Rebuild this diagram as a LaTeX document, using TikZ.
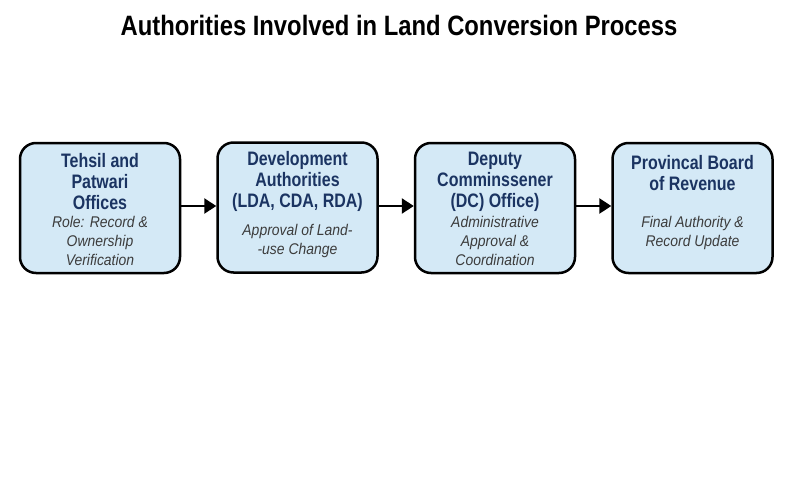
\documentclass[tikz,border=0pt]{standalone}
\usepackage{fontspec}
\setmainfont{Liberation Sans}
\newfontfamily\titlefont[FakeStretch=0.85]{Liberation Sans}
\newfontfamily\headfont[FakeStretch=0.82]{Liberation Sans}
\newfontfamily\subfont[FakeStretch=0.9]{Liberation Sans}
\usetikzlibrary{arrows.meta}
\definecolor{boxfill}{HTML}{D4E9F6}
\definecolor{headcol}{HTML}{1B3462}
\definecolor{subcol}{HTML}{3C3C3C}
\begin{document}
\begin{tikzpicture}[x=1pt,y=-1pt,
  stagebox/.style={draw=black,line width=2.5pt,fill=boxfill,rounded corners=16pt,minimum width=160pt,minimum height=130pt,inner sep=0pt},
  headtxt/.style={font=\headfont\bfseries\fontsize{19.5}{21}\selectfont,text=headcol,align=center,inner sep=0pt},
  subtxt/.style={font=\subfont\itshape\fontsize{15.5}{19}\selectfont,text=subcol,align=center,inner sep=0pt},
  flow/.style={line width=2.8pt,-{Triangle[length=12pt,width=15pt]}}]
\useasboundingbox (0,0) rectangle (800,500);
\fill[white] (0,0) rectangle (800,500);
\node[font=\titlefont\bfseries\fontsize{28}{30}\selectfont,inner sep=0pt] (title) at (399,25) {Authorities Involved in Land Conversion Process};

\node[stagebox] (b1) at (100,208) {};
\node[stagebox] (b2) at (297.5,207.5) {};
\node[stagebox] (b3) at (495,208) {};
\node[stagebox] (b4) at (692.5,208) {};

\node[headtxt] (h1) at (100,181.5) {Tehsil and\\Patwari\\Offices};
\node[subtxt] (s1) at (100,241) {Role: Record \&\\Ownership\\Verification};
\node[headtxt] (h2) at (297.5,181.5) {Development\\Authorities\\(LDA, CDA, RDA)};
\node[subtxt] (s2) at (297.5,241) {Approval of Land-\\-use Change};
\node[headtxt] (h3) at (495,181.5) {Deputy\\Comminssener\\(DC) Office)};
\node[subtxt] (s3) at (495,241) {Administrative\\Approval \&\\Coordination};
\node[headtxt] (h4) at (692.5,173) {Provincal Board\\of Revenue};
\node[subtxt] (s4) at (692.5,233) {Final Authority \&\\Record Update};

\draw[flow] (b1.east |- 0,206) -- (b2.west |- 0,206);
\draw[flow] (b2.east |- 0,206) -- (b3.west |- 0,206);
\draw[flow] (b3.east |- 0,206) -- (b4.west |- 0,206);
\end{tikzpicture}
\end{document}
